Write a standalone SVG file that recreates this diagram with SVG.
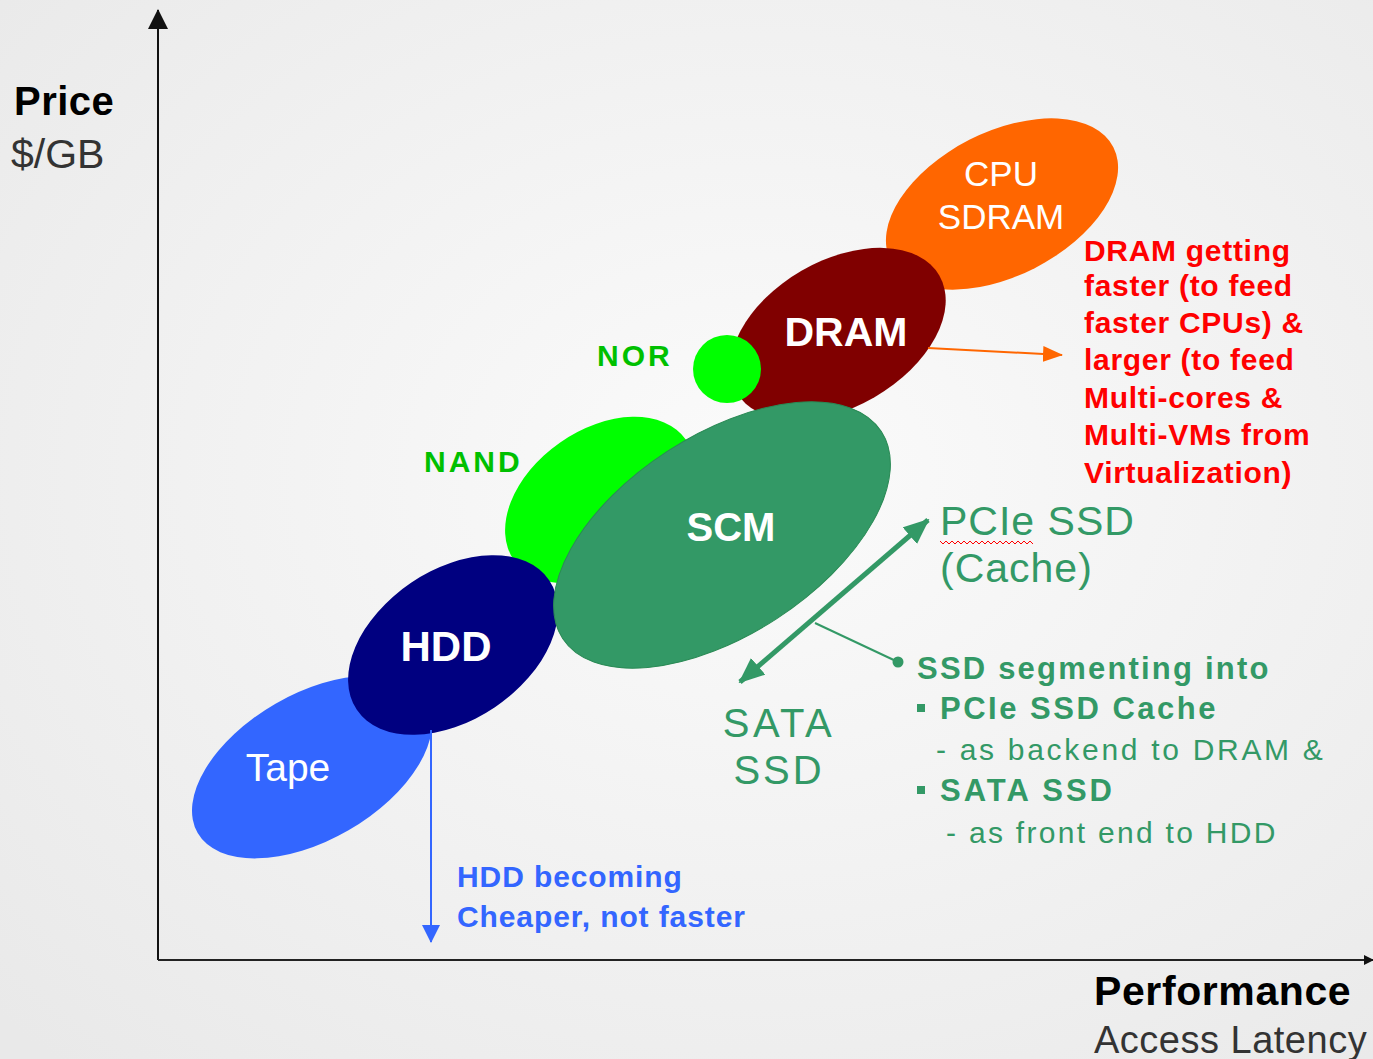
<svg xmlns="http://www.w3.org/2000/svg" width="1373" height="1059" viewBox="0 0 1373 1059">
<defs>
<radialGradient id="bg" cx="55%" cy="45%" r="75%">
<stop offset="0" stop-color="#fbfbfb"/>
<stop offset="1" stop-color="#e9e9e9"/>
</radialGradient>
<marker id="axArrow" viewBox="0 0 10 10" refX="9" refY="5" markerWidth="10" markerHeight="10" markerUnits="userSpaceOnUse" orient="auto">
<path d="M0,0 L10,5 L0,10 Z" fill="#111"/>
</marker>
<marker id="axArrowBig" viewBox="0 0 20 20" refX="19" refY="10" markerWidth="20" markerHeight="20" markerUnits="userSpaceOnUse" orient="auto">
<path d="M0,0 L20,10 L0,20 Z" fill="#111"/>
</marker>
<marker id="orangeHead" viewBox="0 0 20 16" refX="19" refY="8" markerWidth="20" markerHeight="16" markerUnits="userSpaceOnUse" orient="auto">
<path d="M0,0 L20,8 L0,16 Z" fill="#ff6600"/>
</marker>
<marker id="greenHead" viewBox="0 0 26 22" refX="24" refY="11" markerWidth="26" markerHeight="22" markerUnits="userSpaceOnUse" orient="auto-start-reverse">
<path d="M0,0 L26,11 L0,22 Z" fill="#339966"/>
</marker>
<marker id="blueHead" viewBox="0 0 18 18" refX="17" refY="9" markerWidth="18" markerHeight="18" markerUnits="userSpaceOnUse" orient="auto">
<path d="M0,0 L18,9 L0,18 Z" fill="#3366ff"/>
</marker>
<style>
.t{font-family:"Liberation Sans",Arial,sans-serif}
.b{font-weight:bold}
.w{fill:#ffffff}
.red{fill:#ff0000;font-family:"Liberation Sans",Arial,sans-serif;font-weight:bold;font-size:30px;letter-spacing:0.7px}
.grn{fill:#339966;font-family:"Liberation Sans",Arial,sans-serif}
.blu{fill:#3366ff;font-family:"Liberation Sans",Arial,sans-serif;font-weight:bold;font-size:30px;letter-spacing:0.9px}
.lime{fill:#00c000;font-family:"Liberation Sans",Arial,sans-serif;font-weight:bold;font-size:30px;letter-spacing:3px}
</style>
</defs>
<rect width="1373" height="1059" fill="url(#bg)"/>

<g id="axes">
<line x1="158" y1="960" x2="158" y2="10" stroke="#111" stroke-width="2" marker-end="url(#axArrowBig)"/>
<line x1="158" y1="960" x2="1373" y2="960" stroke="#222" stroke-width="2" marker-end="url(#axArrow)"/>
<text class="t b" x="14" y="115" font-size="40" fill="#000" letter-spacing="0.5">Price</text>
<text class="t" x="11" y="168" font-size="41" fill="#333">$/GB</text>
<text class="t b" x="1094" y="1005" font-size="41" fill="#000" letter-spacing="0.6">Performance</text>
<text class="t" x="1094" y="1053" font-size="38" fill="#333" letter-spacing="0.5">Access Latency</text>
</g>

<g id="cpu-sdram">
<ellipse cx="1002" cy="204" rx="125" ry="72" transform="rotate(-27 1002 204)" fill="#ff6600"/>
<text class="t w" x="1001" y="186" font-size="35" text-anchor="middle">CPU</text>
<text class="t w" x="1001" y="229" font-size="35" text-anchor="middle">SDRAM</text>
</g>

<g id="dram">
<ellipse cx="838" cy="334" rx="117" ry="73" transform="rotate(-30 838 334)" fill="#800000"/>
<text class="t b w" x="846" y="346" font-size="41" text-anchor="middle">DRAM</text>
</g>

<g id="nor">
<circle cx="727" cy="369" r="34" fill="#00ff00"/>
<text class="lime" x="597" y="366">NOR</text>
</g>

<g id="tape">
<ellipse cx="312" cy="767" rx="132" ry="73" transform="rotate(-30 312 767)" fill="#3366ff"/>
<text class="t w" x="288" y="781" font-size="39" text-anchor="middle">Tape</text>
</g>

<g id="nand">
<ellipse cx="600" cy="500" rx="105" ry="70" transform="rotate(-35 600 500)" fill="#00ff00"/>
<text class="lime" x="424" y="472">NAND</text>
</g>

<g id="hdd">
<ellipse cx="453" cy="645" rx="116" ry="75" transform="rotate(-34 453 645)" fill="#000080"/>
<text class="t b w" x="446" y="661" font-size="42" text-anchor="middle">HDD</text>
</g>

<g id="scm">
<ellipse cx="722" cy="535" rx="190" ry="100" transform="rotate(-33 722 535)" fill="#339966" stroke="#2a8a55" stroke-width="1"/>
<text class="t b w" x="731" y="541" font-size="40" text-anchor="middle">SCM</text>
</g>

<g id="pcie-ssd">
<text class="grn" x="940" y="535" font-size="41" letter-spacing="1">PCIe SSD</text>
<text class="grn" x="940" y="582" font-size="41" letter-spacing="1">(Cache)</text>
<polyline points="940,541 943,544 946,541 949,544 952,541 955,544 958,541 961,544 964,541 967,544 970,541 973,544 976,541 979,544 982,541 985,544 988,541 991,544 994,541 997,544 1000,541 1003,544 1006,541 1009,544 1012,541 1015,544 1018,541 1021,544 1024,541 1027,544 1030,541 1033,544" fill="none" stroke="#ff0000" stroke-width="1"/>
</g>

<g id="sata-ssd">
<text class="grn" x="779" y="737" font-size="40" text-anchor="middle" letter-spacing="3.5">SATA</text>
<text class="grn" x="779" y="784" font-size="40" text-anchor="middle" letter-spacing="3">SSD</text>
</g>

<g id="ssd-note">
<text class="grn b" x="917" y="679" font-size="31" letter-spacing="2.2">SSD segmenting into</text>
<rect x="917" y="704" width="8" height="8" fill="#339966"/>
<text class="grn b" x="940" y="719" font-size="31" letter-spacing="2.5">PCIe SSD Cache</text>
<text class="grn" x="936" y="760" font-size="30" letter-spacing="2.7">- as backend to DRAM &amp;</text>
<rect x="917" y="786" width="8" height="8" fill="#339966"/>
<text class="grn b" x="940" y="801" font-size="31" letter-spacing="3">SATA SSD</text>
<text class="grn" x="946" y="843" font-size="30" letter-spacing="2.3">- as front end to HDD</text>
</g>

<g id="dram-note">
<text class="red" x="1084" y="261">DRAM getting</text>
<text class="red" x="1084" y="296">faster (to feed</text>
<text class="red" x="1084" y="333">faster CPUs) &amp;</text>
<text class="red" x="1084" y="370">larger (to feed</text>
<text class="red" x="1084" y="408">Multi-cores &amp;</text>
<text class="red" x="1084" y="445">Multi-VMs from</text>
<text class="red" x="1084" y="483">Virtualization)</text>
</g>

<g id="hdd-note">
<text class="blu" x="457" y="887">HDD becoming</text>
<text class="blu" x="457" y="927">Cheaper, not faster</text>
</g>

<g id="connectors">
<line x1="928" y1="348" x2="1062" y2="355" stroke="#ff6600" stroke-width="2" marker-end="url(#orangeHead)"/>
<line x1="740" y1="682" x2="928" y2="520" stroke="#339966" stroke-width="5" marker-start="url(#greenHead)" marker-end="url(#greenHead)"/>
<line x1="815" y1="623" x2="898" y2="662" stroke="#339966" stroke-width="2"/>
<circle cx="898" cy="662" r="5.5" fill="#339966"/>
<line x1="431" y1="730" x2="431" y2="942" stroke="#3366ff" stroke-width="2" marker-end="url(#blueHead)"/>
</g>
</svg>
